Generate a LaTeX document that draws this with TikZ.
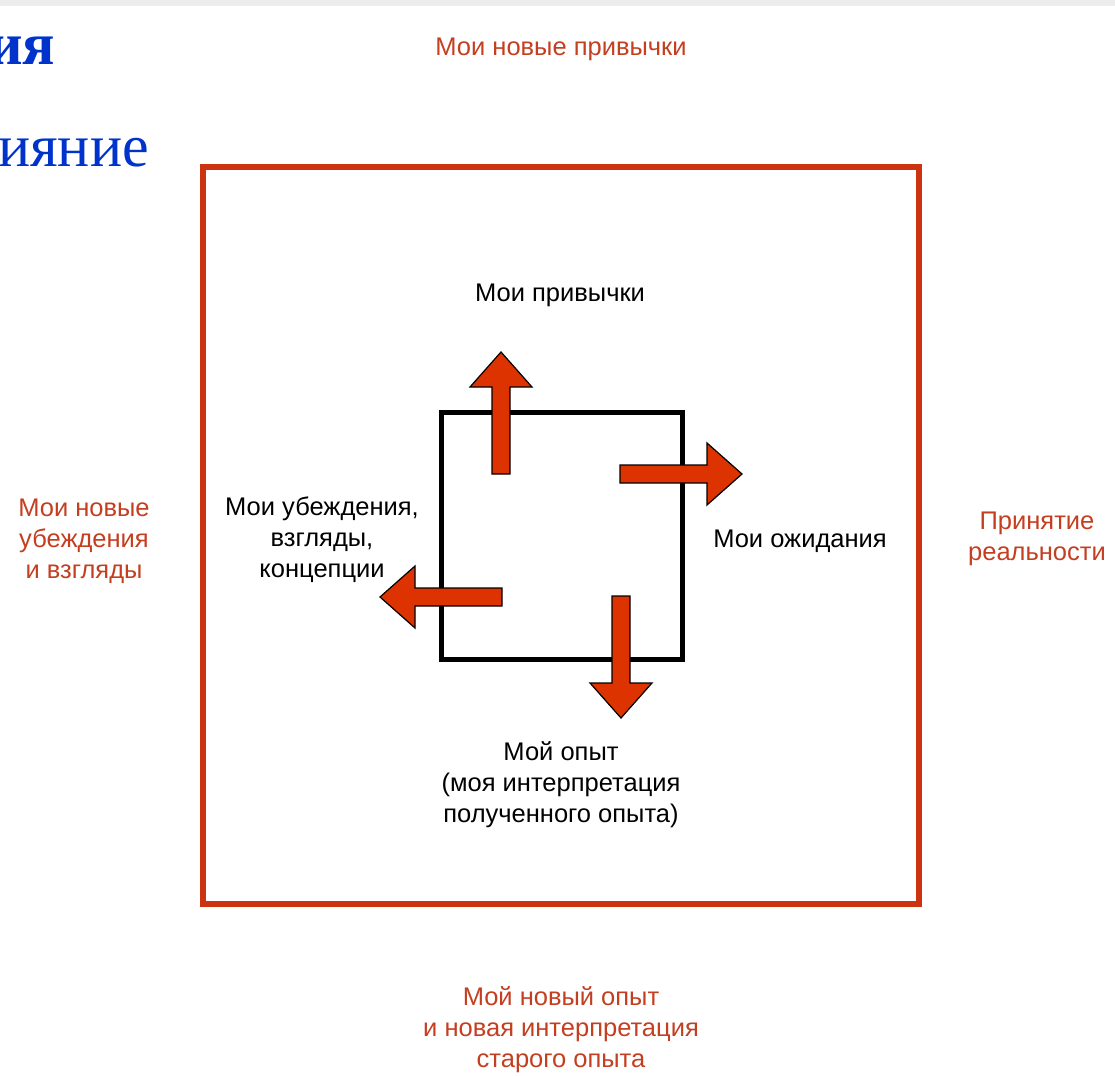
\documentclass[tikz,border=0pt]{standalone}
\usepackage{fontspec}
\setmainfont{Liberation Sans}
\newfontfamily\titlefont{Liberation Serif}
\usepackage{tikz}
\usetikzlibrary{positioning}

\definecolor{framered}{RGB}{204,51,17}
\definecolor{arrowred}{RGB}{221,51,0}
\definecolor{labelred}{RGB}{196,62,32}
\definecolor{titleblue}{RGB}{0,51,204}

\begin{document}
\begin{tikzpicture}[
    x=1pt, y=-1pt,
    label/.style={align=center, inner sep=0pt, font=\fontsize{25.5}{31}\selectfont},
    newlabel/.style={label, text=labelred},
    title/.style={anchor=base west, inner sep=0pt, text=titleblue, font=\titlefont\fontsize{60}{60}\selectfont},
    blockarrow/.style={fill=arrowred, draw=black, line width=1.2pt, line join=miter}
]
\useasboundingbox (0,0) rectangle (1115,1075);

% --- Top strip ---
\fill[black!7] (0,0) rectangle (1115,6);

% --- Cut-off title ---
\node[title] (title1) at (-12,65) {\bfseries ия};
\node[title] (title2) at (-2,167) {ияние};

% --- Outer frame and inner square ---
\draw[framered, line width=6pt] (203,167) rectangle (919,904);
\draw[black, line width=5pt] (441,412) rectangle (682,659);

% --- Four block arrows ---
\foreach \x/\y/\a in {501/474/90, 620/474/0, 502/597/180, 621/596/-90}
    \filldraw[blockarrow, shift={(\x,\y)}, rotate=\a]
        (0,-9) -- (87,-9) -- (87,-31) -- (122,0) -- (87,31) -- (87,9) -- (0,9) -- cycle;

% --- Inner labels ---
\node[label] (habits) at (560,295) {Мои привычки};
\node[label] (expect) at (800,541) {Мои ожидания};
\node[label] (beliefs) at (322,540) {Мои убеждения,\\взгляды,\\концепции};
\node[label] (experience) at (561,785) {Мой опыт\\(моя интерпретация\\полученного опыта)};

% --- Outer labels ---
\node[newlabel] (newhabits) at (561,49) {Мои новые привычки};
\node[newlabel] (reality) at (1037,539) {Принятие\\реальности};
\node[newlabel] (newbeliefs) at (84,541) {Мои новые\\убеждения\\и взгляды};
\node[newlabel] (newexperience) at (561,1030) {Мой новый опыт\\и новая интерпретация\\старого опыта};

\end{tikzpicture}
\end{document}
